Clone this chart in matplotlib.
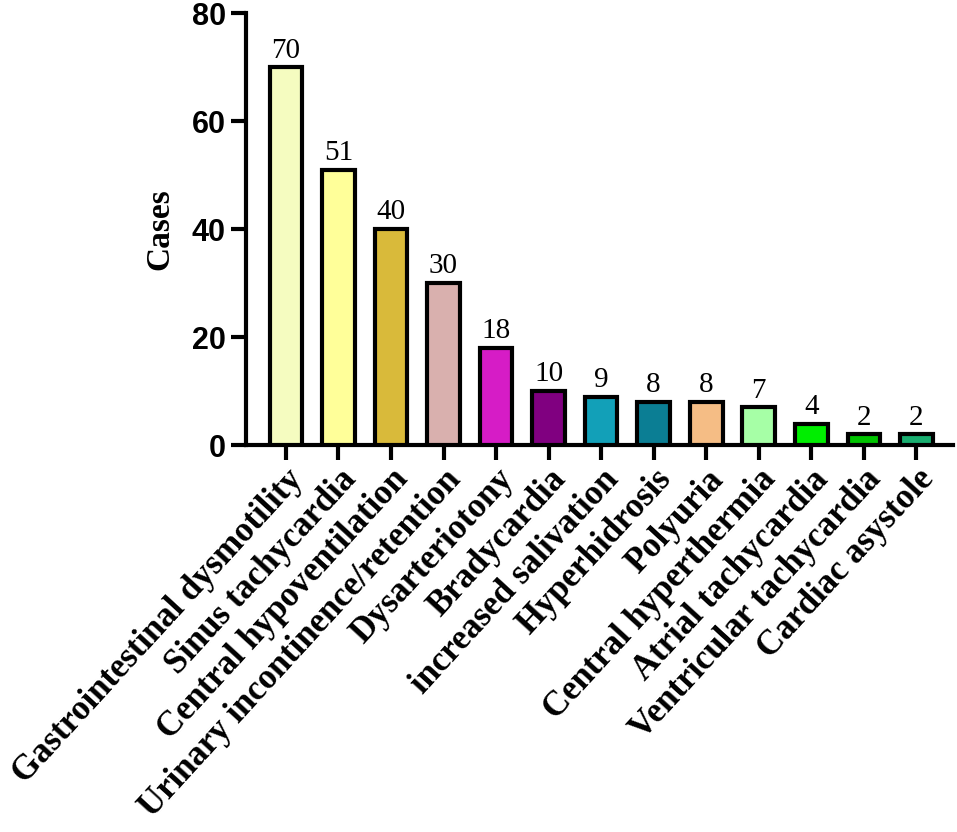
import numpy as np
import matplotlib.pyplot as plt

categories = ["Gastrointestinal dysmotility", "Sinus tachycardia", "Central hypoventilation",
              "Urinary incontinence/retention", "Dysarteriotony", "Bradycardia",
              "increased salivation", "Hyperhidrosis", "Polyuria", "Central hyperthermia",
              "Atrial tachycardia", "Ventricular tachycardia", "Cardiac asystole"]
cases = [70, 51, 40, 30, 18, 10, 9, 8, 8, 7, 4, 2, 2]
colors = ["#F5FCC0", "#FFFF99", "#D9BA3A", "#D9B0AE", "#D61CC6", "#800080", "#12A0B8",
          "#0B7E94", "#F5BD85", "#A6FFA6", "#00EE00", "#00C400", "#19AE70"]

fig = plt.figure(figsize=(9.57, 8.32), dpi=100)
ax = fig.add_axes([0.257, 0.465, 0.739, 0.519])

x = np.arange(len(categories))
ax.bar(x, cases, width=0.62, color=colors, edgecolor='black', linewidth=3, zorder=3)
for xi, v in zip(x, cases):
    ax.text(xi, v + 0.7, str(v), ha='center', va='bottom', fontsize=21,
            family='Liberation Serif')

ax.set_xlim(-0.76, 12.7)
ax.set_ylim(0, 80)
ax.set_yticks([0, 20, 40, 60, 80])
ax.set_yticklabels(['0', '20', '40', '60', '80'], family='Liberation Sans',
                   fontweight='bold', fontsize=22)
ax.set_xticks(x)
ax.set_xticklabels(categories, rotation=47.5, ha='right', rotation_mode='anchor',
                   family='Liberation Serif', fontweight='bold', fontsize=25)
ax.set_ylabel('Cases', family='Liberation Serif', fontweight='bold', fontsize=24, labelpad=12)

for s in ['top', 'right']:
    ax.spines[s].set_visible(False)
for s in ['left', 'bottom']:
    ax.spines[s].set_linewidth(3)
ax.tick_params(width=3, length=11)
ax.tick_params(axis='x', pad=2)

plt.savefig('out.png', dpi=100)
